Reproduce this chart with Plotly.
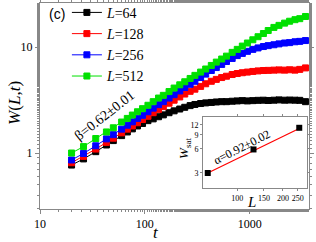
import plotly.graph_objects as go

# time steps (shared)
t = [20, 26, 34, 43, 50, 60, 68, 76, 85, 95,
     107, 120, 135, 150, 170, 190, 215, 240, 270, 300,
     340, 380, 430, 480, 540, 600, 680, 760, 850, 950,
     1070, 1200, 1350, 1500, 1700, 1900, 2150, 2400, 2700, 3000, 3400]

W_64 = [0.77, 0.88, 1.03, 1.19, 1.31, 1.46, 1.58, 1.69, 1.80, 1.90,
        2.02, 2.10, 2.20, 2.29, 2.40, 2.50, 2.60, 2.70, 2.80, 2.87,
        2.93, 2.97, 3.00, 3.03, 3.05, 3.05, 3.08, 3.10, 3.12, 3.10,
        3.12, 3.14, 3.15, 3.13, 3.15, 3.17, 3.15, 3.16, 3.15, 3.14, 3.05]
W_128 = [0.81, 0.93, 1.09, 1.26, 1.38, 1.55, 1.68, 1.80, 1.93, 2.07,
         2.22, 2.40, 2.58, 2.74, 2.95, 3.15, 3.38, 3.60, 3.82, 4.00,
         4.25, 4.50, 4.75, 4.95, 5.15, 5.30, 5.50, 5.62, 5.72, 5.80,
         5.88, 5.95, 6.00, 6.02, 6.05, 6.08, 6.05, 6.10, 6.05, 6.15, 6.35]
W_256 = [0.86, 0.99, 1.17, 1.36, 1.49, 1.68, 1.83, 1.97, 2.12, 2.27,
         2.45, 2.65, 2.86, 3.05, 3.30, 3.55, 3.85, 4.15, 4.45, 4.75,
         5.15, 5.55, 6.00, 6.40, 6.85, 7.30, 7.80, 8.30, 8.70, 9.10,
         9.50, 9.80, 10.1, 10.3, 10.5, 10.7, 10.9, 11.0, 11.2, 11.3, 11.5]
W_512 = [1.00, 1.15, 1.37, 1.58, 1.73, 1.96, 2.12, 2.28, 2.45, 2.62,
         2.82, 3.05, 3.30, 3.50, 3.80, 4.10, 4.40, 4.70, 5.05, 5.40,
         5.80, 6.20, 6.70, 7.20, 7.70, 8.20, 8.90, 9.50, 10.2, 10.9,
         11.7, 12.5, 13.4, 14.3, 15.3, 16.0, 16.8, 17.5, 18.1, 18.5, 19.4]

series_names = ["<i>L</i>=64", "<i>L</i>=128", "<i>L</i>=256", "<i>L</i>=512"]
series_vals = [W_64, W_128, W_256, W_512]
series_colors = ["black", "red", "blue", "#00e000"]

# inset
L_sizes = [64, 128, 256]
W_sat = [3.0, 5.9, 11.0]
W_fit = [3.0, 5.7, 10.8]

main_x_ticks = [10, 100, 1000]
main_y_ticks = [1, 10]
inset_x_ticks = [100, 150, 200, 250]
inset_y_ticks = [3, 6, 9, 12]

SERIF = "Liberation Serif"
AX = "#888888"

fig = go.Figure()
for name, vals, col in zip(series_names, series_vals, series_colors):
    fig.add_trace(go.Scatter(
        x=t, y=vals, mode="lines+markers", name=name,
        line=dict(color=col, width=1),
        marker=dict(symbol="square", size=6, color=col, line=dict(color=col, width=1)),
        xaxis="x", yaxis="y"))

fig.add_trace(go.Scatter(x=L_sizes, y=W_fit, mode="lines", showlegend=False,
                         line=dict(color="red", width=1.2), xaxis="x2", yaxis="y2"))
fig.add_trace(go.Scatter(x=L_sizes, y=W_sat, mode="markers", showlegend=False,
                         marker=dict(symbol="square", size=6, color="black"),
                         xaxis="x2", yaxis="y2"))

fig.update_layout(
    width=316, height=242,
    margin=dict(l=40, r=7, t=3, b=33, autoexpand=False),
    paper_bgcolor="white", plot_bgcolor="white",
    showlegend=True,
    legend=dict(x=0.10, y=1.03, xanchor="left", yanchor="top",
                font=dict(family=SERIF, size=14, color="black"),
                bgcolor="rgba(0,0,0,0)", tracegroupgap=0),
    xaxis=dict(type="log", range=[1.0, 3.565], tickvals=main_x_ticks,
               ticktext=[str(v) for v in main_x_ticks],
               showgrid=False, showline=True, linecolor=AX, mirror="ticks",
               ticks="outside", ticklen=4, tickcolor=AX, automargin=False,
               minor=dict(ticks="outside", ticklen=2, tickcolor=AX, showgrid=False),
               tickfont=dict(family=SERIF, size=12, color="black"), zeroline=False),
    yaxis=dict(type="log", range=[-0.528, 1.415], tickvals=main_y_ticks,
               ticktext=[str(v) for v in main_y_ticks],
               showgrid=False, showline=True, linecolor=AX, mirror="ticks",
               ticks="outside", ticklen=4, tickcolor=AX, automargin=False,
               minor=dict(ticks="outside", ticklen=2, tickcolor=AX, showgrid=False),
               tickfont=dict(family=SERIF, size=12, color="black"), zeroline=False),
    xaxis2=dict(type="log", range=[1.775, 2.46], domain=[0.606, 0.993], anchor="y2",
                tickvals=inset_x_ticks, ticktext=[str(v) for v in inset_x_ticks],
                showgrid=False, showline=True, linecolor=AX, mirror="ticks",
                ticks="outside", ticklen=2, tickcolor=AX,
                tickfont=dict(family=SERIF, size=8, color="black"), zeroline=False),
    yaxis2=dict(type="log", range=[0.29, 1.177], domain=[0.102, 0.447], anchor="x2",
                tickvals=inset_y_ticks, ticktext=[str(v) for v in inset_y_ticks],
                showgrid=False, showline=True, linecolor=AX, mirror="ticks",
                ticks="outside", ticklen=2, tickcolor=AX,
                tickfont=dict(family=SERIF, size=8, color="black"), zeroline=False),
)

ann = [
    dict(text="(c)", x=0.065, y=0.947,
         font=dict(family="Liberation Sans", size=14, color="black")),
    dict(text="β=0.62±0.01", x=0.240, y=0.452, textangle=-38,
         font=dict(family=SERIF, size=14, color="black")),
    dict(text="α=0.92±0.02", x=0.751, y=0.301, textangle=-27,
         font=dict(family=SERIF, size=12, color="black")),
    dict(text="<i>W</i><sub>sat</sub>", x=0.535, y=0.296, textangle=-90,
         font=dict(family=SERIF, size=13, color="black")),
    dict(text="<i>L</i>", x=0.788, y=0.034,
         font=dict(family=SERIF, size=15, color="black")),
    dict(text="<i>t</i>", x=0.43, y=-0.112,
         font=dict(family=SERIF, size=17, color="black")),
    dict(text="<i>W</i>(<i>L</i>,<i>t</i>)", x=-0.093, y=0.515, textangle=-90,
         font=dict(family=SERIF, size=17, color="black")),
]
for a in ann:
    a.update(xref="paper", yref="paper", showarrow=False,
             xanchor="center", yanchor="middle")
fig.update_layout(annotations=ann)

fig.write_html("out.html", config={"displayModeBar": False},
               post_script="document.body.style.margin='0px';")
